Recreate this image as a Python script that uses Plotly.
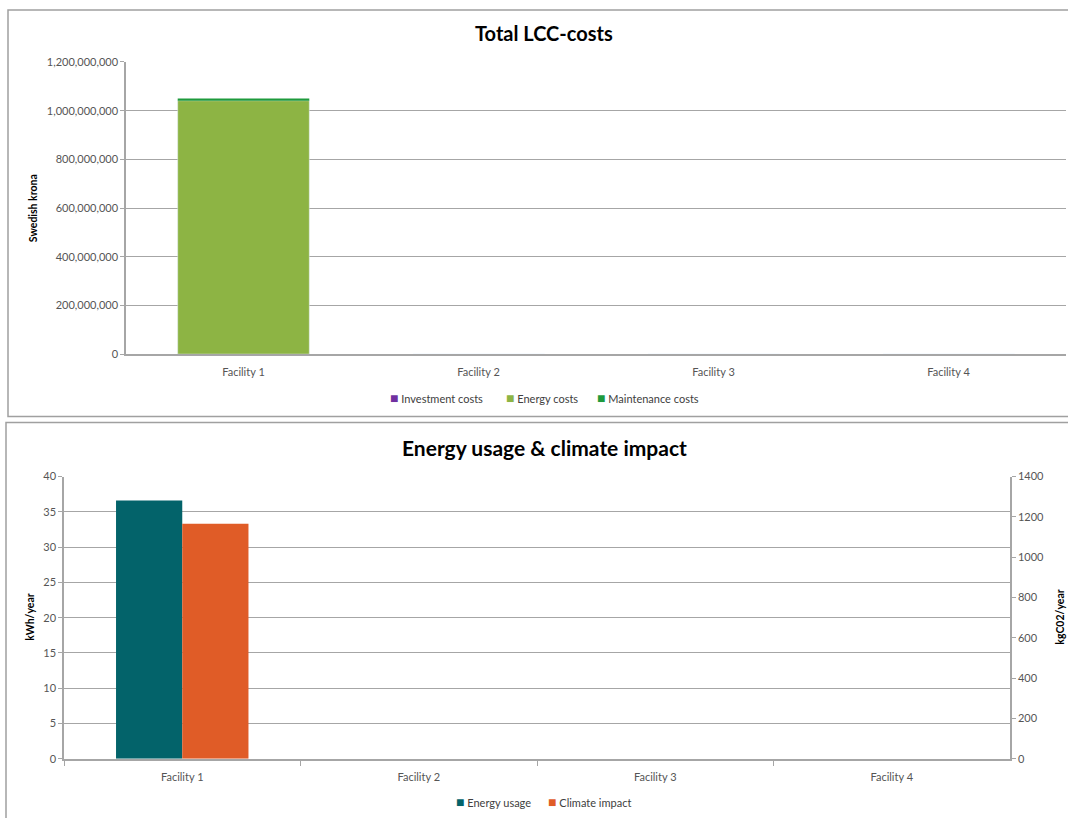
import plotly.graph_objects as go

W, H = 1068, 826
SY, OY = 0.983, 7.1  # vertical scale/offset observed between figure pixels and the photographed page

categories = ["Facility 1", "Facility 2", "Facility 3", "Facility 4"]
investment_costs = [1000000, 0, 0, 0]
energy_costs = [1040000000, 0, 0, 0]
maintenance_costs = [9000000, 0, 0, 0]

energy_usage = [36.6, 0, 0, 0]
climate_impact = [1166, 0, 0, 0]

lcc_ticks = [0, 200000000, 400000000, 600000000, 800000000, 1000000000, 1200000000]

lcc_series = ["Investment costs", "Energy costs", "Maintenance costs"]
lcc_colors = ["#7030A0", "#8DB444", "#1E9A3C"]
env_series = ["Energy usage", "Climate impact"]
env_colors = ["#03636A", "#E05C27"]

FONT = "Lato"
TICKC = "#555555"
GRIDC = "#a6a6a6"


def px(x):
    return x / W


def py(y):
    return 1 - ((y - OY) / SY) / H


base_energy = [a for a in investment_costs]
base_maint = [a + b for a, b in zip(investment_costs, energy_costs)]

fig = go.Figure()
fig.add_trace(go.Bar(x=categories, y=investment_costs, name=lcc_series[0],
                     marker_color=lcc_colors[0], offsetgroup="lcc", xaxis="x", yaxis="y"))
fig.add_trace(go.Bar(x=categories, y=energy_costs, base=base_energy, name=lcc_series[1],
                     marker_color=lcc_colors[1], offsetgroup="lcc", xaxis="x", yaxis="y"))
fig.add_trace(go.Bar(x=categories, y=maintenance_costs, base=base_maint, name=lcc_series[2],
                     marker=dict(color=lcc_colors[2], line=dict(width=0)), offsetgroup="lcc",
                     xaxis="x", yaxis="y"))

fig.add_trace(go.Bar(x=categories, y=energy_usage, name=env_series[0],
                     marker=dict(color=env_colors[0], line=dict(width=0)),
                     offsetgroup="e", xaxis="x2", yaxis="y2"))
fig.add_trace(go.Bar(x=categories, y=climate_impact, name=env_series[1],
                     marker=dict(color=env_colors[1], line=dict(width=0)),
                     offsetgroup="c", xaxis="x2", yaxis="y3"))

tickfont = dict(family=FONT, size=11, color=TICKC)

annotations = [
    dict(text="<b>Total LCC-costs</b>", xref="paper", yref="paper", x=px(544), y=py(33),
         xanchor="center", yanchor="middle", showarrow=False,
         font=dict(family=FONT, size=20, color="#000000")),
    dict(text="<b>Energy usage & climate impact</b>", xref="paper", yref="paper", x=px(544), y=py(447),
         xanchor="center", yanchor="middle", showarrow=False,
         font=dict(family=FONT, size=21, color="#000000")),
    dict(text="<b>Swedish krona</b>", xref="paper", yref="paper", x=px(33), y=py(208),
         xanchor="center", yanchor="middle", showarrow=False, textangle=-90,
         font=dict(family=FONT, size=10.5, color="#000000")),
    dict(text="<b>kWh/year</b>", xref="paper", yref="paper", x=px(30), y=py(617),
         xanchor="center", yanchor="middle", showarrow=False, textangle=-90,
         font=dict(family=FONT, size=10.5, color="#000000")),
    dict(text="<b>kgC02/year</b>", xref="paper", yref="paper", x=px(1060), y=py(617),
         xanchor="center", yanchor="middle", showarrow=False, textangle=-90,
         font=dict(family=FONT, size=10.5, color="#000000")),
]

legend_top_x = [388, 504, 595]
legend_bot_x = [454, 546]
for name, col, lx in zip(lcc_series, lcc_colors, legend_top_x):
    annotations.append(dict(text=f'<span style="color:{col};font-size:14px">■</span> {name}',
                            xref="paper", yref="paper",
                            x=px(lx), y=py(397), xanchor="left", yanchor="middle", showarrow=False,
                            font=dict(family=FONT, size=11, color="#404040")))
for name, col, lx in zip(env_series, env_colors, legend_bot_x):
    annotations.append(dict(text=f'<span style="color:{col};font-size:14px">■</span> {name}',
                            xref="paper", yref="paper",
                            x=px(lx), y=py(801), xanchor="left", yanchor="middle", showarrow=False,
                            font=dict(family=FONT, size=11, color="#404040")))

fig.update_layout(
    width=W, height=H, autosize=False,
    margin=dict(l=0, r=0, t=0, b=0),
    paper_bgcolor="white", plot_bgcolor="white",
    barmode="group", bargap=0.44, showlegend=False,
    font=dict(family=FONT, size=11, color=TICKC),
    xaxis=dict(domain=[px(126), px(1066)], anchor="y", type="category",
               showline=True, linecolor=GRIDC, linewidth=1.5, ticks="",
               ticklabelstandoff=7,
               tickfont=tickfont, showgrid=False),
    yaxis=dict(domain=[py(354), py(62)], anchor="x", range=[0, 1200000000],
               tickvals=lcc_ticks, tickformat=",", showgrid=True, gridcolor=GRIDC, gridwidth=1,
               showline=True, linecolor=GRIDC, linewidth=1.5, ticks="outside", ticklen=4,
               tickcolor=GRIDC, tickfont=tickfont, zeroline=False),
    xaxis2=dict(domain=[px(64), px(1010)], anchor="y2", type="category",
                showline=True, linecolor=GRIDC, linewidth=1.5, ticks="outside",
                tickson="boundaries", ticklen=5, tickcolor=GRIDC, ticklabelstandoff=7,
                tickfont=tickfont, showgrid=False),
    yaxis2=dict(domain=[py(758), py(476)], anchor="x2", range=[0, 40], dtick=5,
                showgrid=True, gridcolor=GRIDC, gridwidth=1,
                showline=True, linecolor=GRIDC, linewidth=1.5, ticks="outside", ticklen=4,
                tickcolor=GRIDC, tickfont=tickfont, zeroline=False),
    yaxis3=dict(overlaying="y2", side="right", anchor="x2", range=[0, 1400], dtick=200,
                showgrid=False, showline=True, linecolor=GRIDC, linewidth=1.5,
                ticks="outside", ticklen=4, tickcolor=GRIDC, tickfont=tickfont, zeroline=False),
    shapes=[
        dict(type="rect", xref="paper", yref="paper", x0=px(8), x1=1.02, y0=py(416), y1=py(10),
             line=dict(color="#a0a0a0", width=1.5), fillcolor="rgba(0,0,0,0)", layer="below"),
        dict(type="rect", xref="paper", yref="paper", x0=px(6), x1=1.02, y0=-0.05, y1=py(422),
             line=dict(color="#a0a0a0", width=1.5), fillcolor="rgba(0,0,0,0)", layer="below"),
    ],
    annotations=annotations,
)

fig.write_html("out.html")
